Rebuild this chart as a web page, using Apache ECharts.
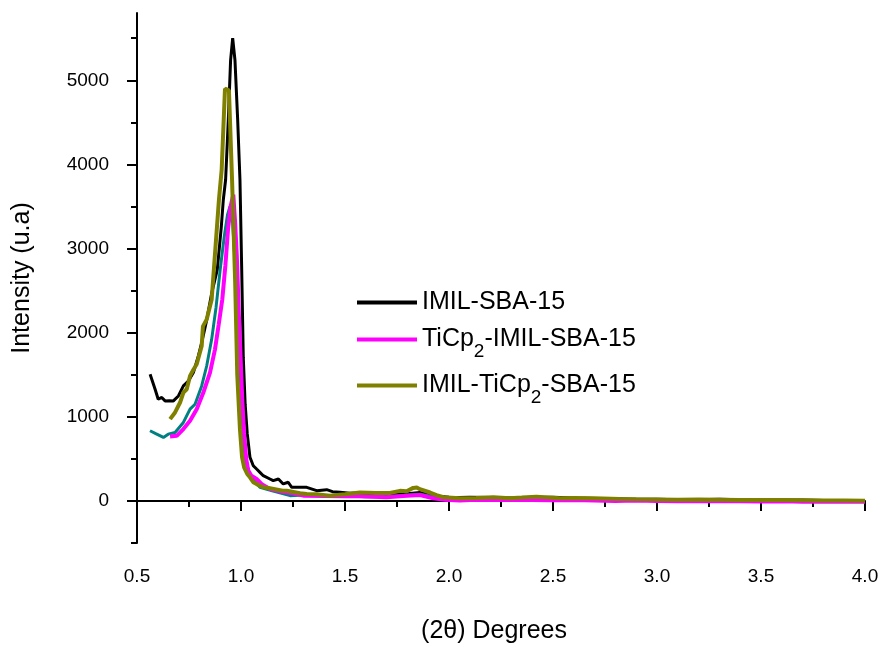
<!DOCTYPE html>
<html>
<head>
<meta charset="utf-8">
<script src="https://cdn.jsdelivr.net/npm/echarts@6/dist/echarts.min.js"></script>
<style>html,body{margin:0;padding:0;background:#fff}#c{width:882px;height:649px}</style>
</head>
<body>
<div id="c"></div>
<script>
// ---- data ----
var seriesNames = ['IMIL-SBA-15', 'TiCp2-IMIL-SBA-15', 'IMIL-TiCp2-SBA-15'];

var xBlack = [0.563,0.587,0.602,0.619,0.635,0.655,0.675,0.699,0.723,0.747,0.771,0.795,0.811,0.835,0.86,0.886,0.905,0.915,0.926,0.939,0.95,0.96,0.971,0.984,0.995,1.003,1.011,1.02,1.03,1.043,1.059,1.075,1.091,1.107,1.139,1.155,1.18,1.203,1.227,1.244,1.268,1.316,1.364,1.412,1.44,1.476,1.524,1.56,1.604,1.65,1.7,1.75,1.8,1.86,1.9,1.95,2.0,2.05,2.1,2.2,2.3,2.4,2.5,2.6,2.7,2.8,2.9,3.0,3.1,3.2,3.3,3.4,3.5,3.6,3.7,3.8,3.9,4.0];
var yBlack = [1506,1328,1209,1230,1189,1190,1189,1248,1367,1426,1526,1723,1882,2150,2480,2750,3250,3580,3818,4530,5240,5500,5240,4530,3818,2800,1700,1150,800,520,419,379,340,300,261,241,261,202,222,162,162,162,122,134,110,103,91,95,83,85,80,90,85,100,80,55,45,42,45,40,35,40,45,35,30,25,20,20,15,15,20,15,10,10,10,5,5,0];

var xTeal = [0.5625,0.59,0.627,0.65,0.683,0.723,0.755,0.779,0.811,0.835,0.859,0.88,0.9,0.92,0.935,0.947,0.96,0.975,0.99,1.0,1.01,1.02,1.04,1.06,1.091,1.15,1.236,1.3,1.4,1.5,1.6,1.7,1.8,1.86,1.95,2.0,2.1,2.2,2.3,2.5,2.7,2.9,3.1,3.3,3.5,3.7,3.9,4.0];
var yTeal = [834,800,755,794,814,933,1091,1150,1367,1604,1921,2300,2750,3150,3400,3500,3300,2700,1900,1300,800,500,330,250,162,120,63,70,65,60,50,50,70,80,40,25,25,25,20,20,15,10,5,5,0,0,-5,-5];

var xMagenta = [0.659,0.691,0.723,0.755,0.787,0.819,0.851,0.875,0.893,0.91,0.925,0.9375,0.95,0.963,0.972,0.98,0.99,0.998,1.006,1.015,1.025,1.035,1.05,1.075,1.1,1.139,1.2,1.25,1.3,1.4,1.5,1.572,1.7,1.78,1.86,1.925,1.98,2.053,2.1,2.2,2.3,2.4,2.5,2.6,2.7,2.8,2.9,3.0,3.1,3.2,3.3,3.4,3.5,3.6,3.7,3.8,3.9,4.0];
var yMagenta = [767,774,854,952,1091,1289,1526,1802,2100,2395,2800,3225,3500,3640,3300,2900,2200,1700,1200,800,500,360,300,261,200,142,110,90,63,60,55,56,44,60,71,32,15,4,10,15,10,12,8,10,5,0,5,0,-5,0,-5,-5,-8,-5,-10,-8,-10,-10];

var xOlive = [0.659,0.683,0.707,0.723,0.739,0.755,0.771,0.787,0.811,0.817,0.835,0.859,0.894,0.907,0.923,0.942,0.957,0.972,0.982,0.995,1.005,1.015,1.03,1.043,1.059,1.075,1.107,1.139,1.2,1.22,1.284,1.316,1.36,1.428,1.5,1.572,1.652,1.716,1.764,1.796,1.828,1.845,1.86,1.909,1.94,1.973,2.053,2.13,2.213,2.293,2.35,2.42,2.534,2.6,2.694,2.822,2.9,3.0,3.1,3.2,3.3,3.4,3.5,3.6,3.7,3.8,3.9,4.0];
var yOlive = [972,1052,1170,1289,1328,1486,1560,1624,1841,2075,2158,2395,3581,3936,4900,4880,3818,2600,1500,850,520,400,320,281,222,200,162,150,122,120,91,83,80,63,80,100,95,95,120,115,155,160,140,100,70,44,32,35,44,32,40,51,32,35,32,24,20,18,15,18,15,12,10,10,8,6,5,2];

var xTicks = [0.5, 1.0, 1.5, 2.0, 2.5, 3.0, 3.5, 4.0];
var yMajorTicks = [0, 1000, 2000, 3000, 4000, 5000];
var yMinorTicks = [-500, 500, 1500, 2500, 3500, 4500, 5500];

function pairs(xs, ys) { return xs.map(function (x, i) { return [x, ys[i]]; }); }

var FONT = '"Liberation Sans", Arial, sans-serif';
var chart = echarts.init(document.getElementById('c'), null, {renderer: 'canvas'});

function legendFmt(name) {
  var parts = name.split('TiCp2');
  if (parts.length === 1) return '{n|' + name + '}';
  var out = '';
  if (parts[0]) out += '{n|' + parts[0] + '}';
  out += '{n|TiCp}{s|2}';
  if (parts[1]) out += '{n|' + parts[1] + '}';
  return out;
}

var option = {
  animation: false,
  backgroundColor: '#ffffff',
  grid: {left: 137, right: 17, top: 13, bottom: 105, containLabel: false},
  legend: {
    data: seriesNames,
    orient: 'vertical',
    left: 357,
    top: 290,
    padding: 0,
    icon: 'rect',
    itemWidth: 60,
    itemHeight: 4,
    itemGap: 3,
    formatter: legendFmt,
    textStyle: {
      fontFamily: FONT, fontSize: 25, color: '#000',
      rich: {
        n: {fontFamily: FONT, fontSize: 25, color: '#000', lineHeight: 24},
        s: {fontFamily: FONT, fontSize: 19, color: '#000', lineHeight: 19, padding: [24, 0, 0, 0]}
      }
    }
  },
  xAxis: {
    type: 'value',
    min: 0.5, max: 4.0, interval: 0.5,
    name: '(2\u03b8) Degrees',
    nameLocation: 'middle',
    nameGap: 76,
    nameTextStyle: {fontFamily: FONT, fontSize: 25, color: '#000', padding: [0, 14, 0, 0]},
    axisLine: {show: true, lineStyle: {color: '#000', width: 2}},
    axisTick: {show: true, length: 10, lineStyle: {color: '#000', width: 2}},
    minorTick: {show: true, splitNumber: 2, length: 6, lineStyle: {color: '#000', width: 2}},
    splitLine: {show: false},
    minorSplitLine: {show: false},
    axisLabel: {
      fontFamily: FONT, fontSize: 19, color: '#000', margin: 24,
      customValues: xTicks,
      formatter: function (v) { return v.toFixed(1); }
    }
  },
  yAxis: [{
    type: 'value',
    min: -500, max: 5800,
    name: 'Intensity (u.a)',
    nameLocation: 'middle',
    nameGap: 102,
    nameTextStyle: {fontFamily: FONT, fontSize: 25, color: '#000'},
    axisLine: {show: true, lineStyle: {color: '#000', width: 2}},
    axisTick: {show: true, length: 10, customValues: yMajorTicks, lineStyle: {color: '#000', width: 2}},
    splitLine: {show: false},
    axisLabel: {
      fontFamily: FONT, fontSize: 19, color: '#000', margin: 28,
      customValues: yMajorTicks,
      formatter: function (v) { return String(v); }
    }
  }, {
    type: 'value',
    position: 'left',
    min: -500, max: 5800,
    axisLine: {show: false},
    axisTick: {show: true, length: 6, customValues: yMinorTicks, lineStyle: {color: '#000', width: 2}},
    splitLine: {show: false},
    axisLabel: {show: false}
  }],
  series: [{
    name: seriesNames[0], type: 'line', symbol: 'none', yAxisIndex: 0,
    color: '#000000', lineStyle: {color: '#000000', width: 3},
    data: pairs(xBlack, yBlack)
  }, {
    name: 'teal', type: 'line', symbol: 'none', yAxisIndex: 0,
    color: '#008080', lineStyle: {color: '#008080', width: 3},
    data: pairs(xTeal, yTeal)
  }, {
    name: seriesNames[1], type: 'line', symbol: 'none', yAxisIndex: 0,
    color: '#ff00ff', lineStyle: {color: '#ff00ff', width: 4},
    data: pairs(xMagenta, yMagenta)
  }, {
    name: seriesNames[2], type: 'line', symbol: 'none', yAxisIndex: 0,
    color: '#808000', lineStyle: {color: '#808000', width: 4},
    data: pairs(xOlive, yOlive)
  }]
};
chart.setOption(option);
</script>
</body>
</html>
